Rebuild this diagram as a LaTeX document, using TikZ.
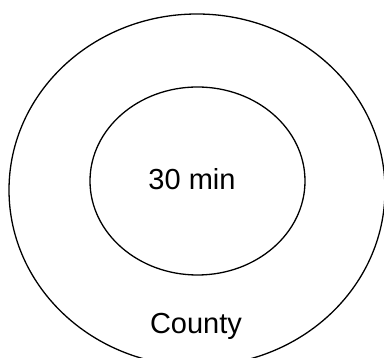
\documentclass[tikz,border=0pt]{standalone}
\usepackage{fontspec}
\setmainfont{Liberation Sans}
\begin{document}
\begin{tikzpicture}[x=1pt,y=-1pt,
  ring/.style={draw=black,line width=1.3pt},
  lbl/.style={font=\fontsize{29}{32}\selectfont,inner sep=0pt,anchor=base}]
\useasboundingbox (0,0) rectangle (384,358);
\clip (0,0) rectangle (384,358);
\fill[white] (0,0) rectangle (384,358);
\draw[ring] (197,190) ellipse [x radius=188, y radius=176];
\draw[ring] (197.5,181) ellipse [x radius=107.5, y radius=94];
\node[lbl] (inner) at (192,190) {30 min};
\node[lbl] (outer) at (196,334) {County};
\end{tikzpicture}
\end{document}
